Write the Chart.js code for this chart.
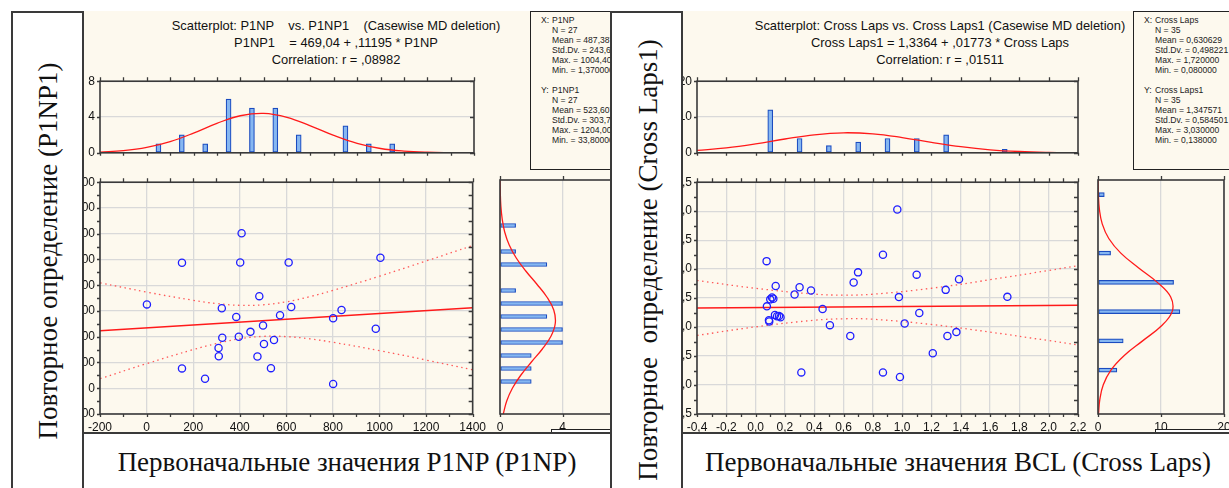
<!DOCTYPE html>
<html>
<head>
<meta charset="utf-8">
<script src="https://cdn.jsdelivr.net/npm/chart.js@4.4.0/dist/chart.umd.min.js"></script>
<style>
  html, body { margin: 0; padding: 0; background: #fff; width: 1229px; height: 488px; overflow: hidden; position: relative; font-family: 'Liberation Sans', Arial, sans-serif; }
  .abs { position: absolute; }
  .cream { background: #fdf9ee; }
  .lbox { background: #fff; border: 2px solid #3a3a3a; box-sizing: border-box; }
  .bbox { background: #fff; border-top: 2px solid #3a3a3a; box-sizing: border-box; }
  .vlab { font-family: 'Liberation Serif', 'Times New Roman', serif; font-size: 27px; white-space: pre; transform: translate(-50%, -50%) rotate(-90deg); color: #111; }
  .xlab { font-family: 'Liberation Serif', 'Times New Roman', serif; font-size: 27px; white-space: pre; transform: translate(-50%, -50%); color: #111; }
  .ttl { font-size: 12.9px; white-space: pre; transform: translateX(-50%); line-height: 17px; text-align: center; color: #111; }
  .stats { background: #fdf9ee; border: 1px solid #222; box-sizing: border-box; font-size: 8.6px; line-height: 10px; white-space: pre; color: #222; overflow: hidden; padding: 3px 0 0 10px; }
  .stats .in { padding-left: 11px; }
  .stats b { font-weight: normal; display: inline-block; width: 11px; }
  .small { background: #fff; border: 1px solid #222; box-sizing: border-box; }
  canvas { position: absolute; }
</style>
</head>
<body>
  <!-- left panel: P1NP -->
  <div class="abs cream" style="left:83px;top:11px;width:530px;height:425px;"></div>
  <div class="abs ttl" style="left:336px;top:17px;">Scatterplot: P1NP    vs. P1NP1    (Casewise MD deletion)
P1NP1    = 469,04 + ,11195 * P1NP
Correlation: r = ,08982</div>
  <div class="abs stats" style="left:530px;top:11px;width:120px;height:159px;"><div><b>X:</b>P1NP</div><div class="in">N = 27</div><div class="in">Mean = 487,3870</div><div class="in">Std.Dv. = 243,6080</div><div class="in">Max. = 1004,400</div><div class="in">Min. = 1,370000</div><div>&nbsp;</div><div><b>Y:</b>P1NP1</div><div class="in">N = 27</div><div class="in">Mean = 523,6070</div><div class="in">Std.Dv. = 303,7030</div><div class="in">Max. = 1204,000</div><div class="in">Min. = 33,80000</div></div>
  <canvas id="l-top"></canvas>
  <canvas id="l-sc"></canvas>
  <canvas id="l-side"></canvas>
  <div class="abs small" style="left:551px;top:429px;width:80px;height:10px;"></div>
  <div class="abs bbox" style="left:83px;top:432px;width:530px;height:60px;"></div>
  <div class="abs xlab" style="left:347px;top:462px;">Первоначальные значения P1NP (P1NP)</div>
  <div class="abs lbox" style="left:11px;top:11px;width:73px;height:490px;"></div>
  <div class="abs vlab" style="left:48px;top:251px;">Повторное определение (P1NP1)</div>

  <!-- right panel: Cross Laps -->
  <div class="abs cream" style="left:681px;top:11px;width:560px;height:425px;"></div>
  <div class="abs ttl" style="left:940px;top:17px;">Scatterplot: Cross Laps vs. Cross Laps1 (Casewise MD deletion)
Cross Laps1 = 1,3364 + ,01773 * Cross Laps
Correlation: r = ,01511</div>
  <div class="abs stats" style="left:1133px;top:11px;width:120px;height:159px;"><div><b>X:</b>Cross Laps</div><div class="in">N = 35</div><div class="in">Mean = 0,630629</div><div class="in">Std.Dv. = 0,498221</div><div class="in">Max. = 1,720000</div><div class="in">Min. = 0,080000</div><div>&nbsp;</div><div><b>Y:</b>Cross Laps1</div><div class="in">N = 35</div><div class="in">Mean = 1,347571</div><div class="in">Std.Dv. = 0,584501</div><div class="in">Max. = 3,030000</div><div class="in">Min. = 0,138000</div></div>
  <canvas id="r-top"></canvas>
  <canvas id="r-sc"></canvas>
  <canvas id="r-side"></canvas>
  <div class="abs small" style="left:1155px;top:429px;width:90px;height:10px;"></div>
  <div class="abs bbox" style="left:681px;top:432px;width:560px;height:60px;"></div>
  <div class="abs xlab" style="left:958px;top:462px;">Первоначальные значения BCL (Cross Laps)</div>
  <div class="abs lbox" style="left:610px;top:11px;width:73px;height:490px;"></div>
  <div class="abs vlab" style="left:648px;top:260px;">Повторное  определение (Cross Laps1)</div>

<script>
// P1NP vs P1NP1
const p1npX = [1.4, 152, 402, 610, 484, 323, 621, 385, 573, 500, 446, 325, 396, 309, 310, 476, 504, 547, 152, 251, 534, 1004, 837, 801, 984, 801, 408]
const p1npY = [651, 975, 977, 977, 715, 621, 631, 554, 567, 487, 438, 392, 400, 313, 248, 246, 344, 375, 154, 74, 156, 1013, 608, 544, 462, 33.8, 1204]
const p1npFitX = [-200, 1400]
const p1npFitY = [447, 626]
const p1npBandX = [-200, 0, 200, 300, 400, 500, 600, 700, 800, 1000, 1200, 1400]
const p1npUpper = [819, 747, 683, 658, 644, 648, 671, 711, 760, 870, 988, 1108]
const p1npLower = [74, 191, 300, 347, 384, 403, 401, 384, 357, 292, 219, 143]
const p1npBins = [-50, 50, 150, 250, 350, 450, 550, 650, 750, 850, 950, 1050, 1150]
const p1npCounts = [0, 1, 2, 1, 6, 5, 5, 2, 0, 3, 1, 1, 0]
const p1npCurveX = [-200, -100, 0, 100, 200, 300, 400, 500, 600, 700, 800, 900, 1000, 1100, 1200, 1300, 1400]
const p1npCurveY = [0.08, 0.24, 0.6, 1.25, 2.2, 3.29, 4.14, 4.41, 3.97, 3.02, 1.94, 1.05, 0.48, 0.19, 0.06, 0.02, 0.004]
const p1np1Bins = [50, 150, 250, 350, 450, 550, 650, 750, 850, 950, 1050, 1150, 1250]
const p1np1Counts = [2, 2, 2, 4, 4, 3, 4, 1, 0, 3, 1, 0, 1]
const p1np1CurveY = [-200, -100, 0, 100, 200, 300, 400, 500, 600, 700, 800, 900, 1000, 1100, 1200, 1300, 1400, 1500, 1600]
const p1np1CurveN = [0.21, 0.43, 0.8, 1.34, 2.01, 2.71, 3.27, 3.54, 3.44, 3.0, 2.35, 1.65, 1.04, 0.59, 0.3, 0.14, 0.055, 0.02, 0.007]

// Cross Laps vs Cross Laps1
const clX = [0.075, 0.077, 0.091, 0.093, 0.10, 0.112, 0.121, 0.137, 0.132, 0.146, 0.17, 0.16, 0.266, 0.30, 0.378, 0.457, 0.507, 0.312, 0.646, 0.669, 0.699, 0.869, 0.869, 0.978, 0.985, 1.017, 1.099, 1.117, 1.297, 1.388, 1.718, 1.370, 1.309, 1.209, 0.967]
const clY = [2.138, 1.358, 1.119, 1.095, 1.478, 1.512, 1.488, 1.71, 1.209, 1.187, 1.17, 1.19, 1.563, 1.688, 1.632, 1.312, 1.033, 0.218, 0.845, 1.768, 1.944, 2.247, 0.218, 1.517, 0.138, 1.061, 1.905, 1.244, 1.642, 1.825, 1.522, 0.913, 0.845, 0.548, 3.03]
const clFitX = [-0.4, 2.2]
const clFitY = [1.329, 1.375]
const clBandX = [-0.4, 0, 0.4, 0.6, 0.8, 1.2, 1.6, 2.0, 2.2]
const clUpper = [1.804, 1.669, 1.569, 1.552, 1.567, 1.670, 1.817, 1.977, 2.059]
const clLower = [0.855, 1.004, 1.118, 1.143, 1.135, 1.045, 0.913, 0.767, 0.692]
const clBins = [-0.1, 0.1, 0.3, 0.5, 0.7, 0.9, 1.1, 1.3, 1.5, 1.7, 1.9]
const clCounts = [0, 12, 4, 2, 3, 4, 4, 5, 0, 1, 0]
const clCurveX = [-0.4, -0.2, 0, 0.2, 0.4, 0.6, 0.8, 1.0, 1.2, 1.4, 1.6, 1.8, 2.0, 2.2]
const clCurveY = [0.66, 1.4, 2.51, 3.85, 5.03, 5.59, 5.29, 4.26, 2.91, 1.7, 0.84, 0.36, 0.13, 0.04]
const cl1Bins = [-0.25, 0.25, 0.75, 1.25, 1.75, 2.25, 2.75, 3.25]
const cl1Counts = [0, 3, 4, 13, 12, 2, 0, 1]
const cl1CurveY = [-0.5, -0.25, 0, 0.25, 0.5, 0.75, 1, 1.25, 1.5, 1.75, 2, 2.25, 2.5, 2.75, 3, 3.25, 3.5]
const cl1CurveN = [0.08, 0.29, 0.84, 2.05, 4.17, 7.08, 10.0, 11.77, 11.54, 9.42, 6.41, 3.62, 1.71, 0.67, 0.22, 0.06, 0.01]

const RED = '#ff1a1a'
const BAND = '#ff5a5a'
const BLUE = '#1f1fff'
const BAR_FILL = '#86b7f1'
const BAR_EDGE = '#1b4cc0'
const GRID = '#d9d9d9'

Chart.defaults.font.family = "'Liberation Sans', Arial, sans-serif"
Chart.defaults.font.size = 12
Chart.defaults.color = '#111'

const pts = (xs, ys) => xs.map((x, i) => ({ x, y: ys[i] }))
const comma = v => (Math.abs(v) < 1e-9 ? 0 : v).toFixed(1).replace('.', ',')

// frame round the plot area, with small outward ticks on every side
Chart.register({
  id: 'frame',
  afterDatasetsDraw(chart, args, opts) {
    const { ctx, chartArea: a, scales } = chart
    ctx.save()
    ctx.strokeStyle = '#3a3a3a'
    ctx.lineWidth = 1.3
    ctx.beginPath()
    if (opts.xStep) {
      const s = scales.x
      for (let v = s.min; v <= s.max + 1e-9; v += opts.xStep) {
        const p = Math.round(s.getPixelForValue(v)) + 0.5
        ctx.moveTo(p, a.top); ctx.lineTo(p, a.top - 4)
        ctx.moveTo(p, a.bottom); ctx.lineTo(p, a.bottom + 3)
      }
    }
    if (opts.yStep) {
      const s = scales.y
      for (let v = s.min; v <= s.max + 1e-9; v += opts.yStep) {
        const p = Math.round(s.getPixelForValue(v)) + 0.5
        ctx.moveTo(a.left, p); ctx.lineTo(a.left - 3, p)
        ctx.moveTo(a.right, p); ctx.lineTo(a.right - 4, p)
      }
    }
    ctx.stroke()
    ctx.lineWidth = 1.6
    ctx.strokeRect(a.left, a.top, a.right - a.left, a.bottom - a.top)
    ctx.restore()
  }
})

function place(id, r, m) {
  const c = document.getElementById(id)
  c.width = r.w + m.l + m.r
  c.height = r.h + m.t + m.b
  c.style.left = (r.x - m.l) + 'px'
  c.style.top = (r.y - m.t) + 'px'
  return c
}

const base = {
  responsive: false,
  animation: false,
  events: [],
  plugins: { legend: { display: false }, tooltip: { enabled: false } }
}

function histTop(id, r, xr, bins, counts, cx, cy, yr) {
  const m = { l: 30, t: 10, r: 12, b: 8 }
  return new Chart(place(id, r, m), {
    type: 'bar',
    data: {
      datasets: [
        { type: 'line', data: pts(cx, cy), borderColor: RED, borderWidth: 1.3, pointRadius: 0, tension: 0.4 },
        { data: pts(bins, counts), backgroundColor: BAR_FILL, borderColor: BAR_EDGE, borderWidth: 1.2, borderSkipped: false, barThickness: 5 }
      ]
    },
    options: {
      ...base,
      layout: { padding: { left: 0, top: m.t, right: m.r, bottom: 0 } },
      scales: {
        x: { type: 'linear', min: xr.min, max: xr.max, offset: false, ticks: { display: false, stepSize: xr.step }, grid: { display: false, offset: false }, border: { display: false }, afterFit: s => { s.height = m.b } },
        y: { type: 'linear', min: 0, max: yr.max, ticks: { stepSize: yr.step, padding: 5 }, grid: { color: GRID, lineWidth: 1.3, drawTicks: false }, border: { display: false }, afterFit: s => { s.width = m.l } }
      },
      plugins: { ...base.plugins, frame: { xStep: xr.step, yStep: yr.step } }
    }
  })
}

function scatter(id, r, xr, yr, fmt, px, py, fx, fy, bx, bu, bl) {
  const m = { l: 36, t: 10, r: 18, b: 22 }
  const band = d => ({ data: d, showLine: true, borderColor: BAND, borderWidth: 1.3, borderDash: [1.5, 3.5], pointRadius: 0, tension: 0.4 })
  return new Chart(place(id, r, m), {
    type: 'scatter',
    data: {
      datasets: [
        { data: pts(px, py), pointRadius: 3.6, borderColor: BLUE, backgroundColor: 'rgba(0,0,0,0)', borderWidth: 1.3 },
        { data: pts(fx, fy), showLine: true, borderColor: RED, borderWidth: 1.5, pointRadius: 0 },
        band(pts(bx, bu)),
        band(pts(bx, bl))
      ]
    },
    options: {
      ...base,
      layout: { padding: { left: 0, top: m.t, right: m.r, bottom: 0 } },
      scales: {
        x: { type: 'linear', min: xr.min, max: xr.max, ticks: { stepSize: xr.step, padding: 6, callback: fmt, maxRotation: 0, autoSkip: false }, grid: { color: GRID, lineWidth: 1.3, drawTicks: false }, border: { display: false }, afterFit: s => { s.height = m.b } },
        y: { type: 'linear', min: yr.min, max: yr.max, ticks: { stepSize: yr.step, padding: 5, callback: fmt, autoSkip: false }, grid: { color: GRID, lineWidth: 1.3, drawTicks: false }, border: { display: false }, afterFit: s => { s.width = m.l } }
      },
      plugins: { ...base.plugins, frame: { xStep: xr.step / 2, yStep: yr.step / 2 } }
    }
  })
}

function histSide(id, r, xr, yr, bins, counts, cy, cn) {
  const m = { l: 10, t: 10, r: 14, b: 22 }
  return new Chart(place(id, r, m), {
    type: 'bar',
    data: {
      datasets: [
        { type: 'line', indexAxis: 'y', data: pts(cn, cy), borderColor: RED, borderWidth: 1.3, pointRadius: 0, tension: 0.4 },
        { data: pts(counts, bins), backgroundColor: BAR_FILL, borderColor: BAR_EDGE, borderWidth: 1.2, borderSkipped: false, barThickness: 4 }
      ]
    },
    options: {
      ...base,
      indexAxis: 'y',
      layout: { padding: { left: 0, top: m.t, right: m.r, bottom: 0 } },
      scales: {
        x: { type: 'linear', min: 0, max: xr.max, ticks: { stepSize: xr.step, padding: 6 }, grid: { color: GRID, lineWidth: 1.3, drawTicks: false }, border: { display: false }, afterFit: s => { s.height = m.b } },
        y: { type: 'linear', min: yr.min, max: yr.max, offset: false, ticks: { display: false }, grid: { display: false, offset: false }, border: { display: false }, afterFit: s => { s.width = m.l } }
      },
      plugins: { ...base.plugins, frame: { xStep: xr.step } }
    }
  })
}

const pX = { min: -200, max: 1400, step: 200 }
const pY = { min: -200, max: 1600, step: 200 }
histTop('l-top', { x: 100, y: 79, w: 374, h: 78 }, { min: -200, max: 1400, step: 100 }, p1npBins, p1npCounts, p1npCurveX, p1npCurveY, { max: 8, step: 4 })
scatter('l-sc', { x: 100, y: 180, w: 374, h: 234 }, pX, pY, v => String(v), p1npX, p1npY, p1npFitX, p1npFitY, p1npBandX, p1npUpper, p1npLower)
histSide('l-side', { x: 500, y: 180, w: 125, h: 234 }, { max: 8, step: 4 }, pY, p1np1Bins, p1np1Counts, p1np1CurveY, p1np1CurveN)

const cX = { min: -0.4, max: 2.2, step: 0.2 }
const cY = { min: -0.5, max: 3.5, step: 0.5 }
histTop('r-top', { x: 697, y: 79, w: 381, h: 78 }, cX, clBins, clCounts, clCurveX, clCurveY, { max: 20, step: 10 })
scatter('r-sc', { x: 697, y: 180, w: 381, h: 234 }, cX, cY, comma, clX, clY, clFitX, clFitY, clBandX, clUpper, clLower)
histSide('r-side', { x: 1098, y: 180, w: 126, h: 234 }, { max: 20, step: 10 }, cY, cl1Bins, cl1Counts, cl1CurveY, cl1CurveN)
</script>
</body>
</html>
